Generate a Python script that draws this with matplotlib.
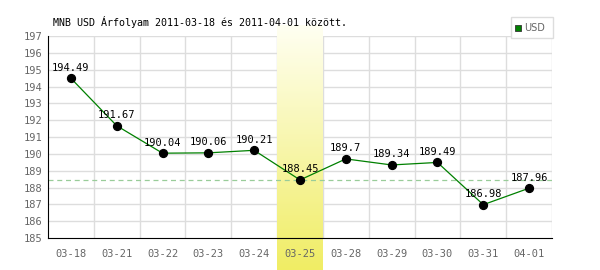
import matplotlib
matplotlib.use("Agg")
import matplotlib.pyplot as plt
import matplotlib.transforms as mtransforms
from matplotlib.patches import Rectangle
import numpy as np

dates = ["03-18", "03-21", "03-22", "03-23", "03-24", "03-25",
         "03-28", "03-29", "03-30", "03-31", "04-01"]
values = [194.49, 191.67, 190.04, 190.06, 190.21, 188.45,
          189.7, 189.34, 189.49, 186.98, 187.96]
value_labels = ["194.49", "191.67", "190.04", "190.06", "190.21", "188.45",
                "189.7", "189.34", "189.49", "186.98", "187.96"]
highlight = 5
y_ticks = list(range(185, 198))
title = "MNB USD Árfolyam 2011-03-18 és 2011-04-01 között."

mono = "DejaVu Sans Mono"

fig = plt.figure(figsize=(6, 2.7), dpi=100)
ax = fig.add_axes([0.08, 0.1185, 0.84, 0.748])

x = np.arange(len(dates))

# grid drawn by hand so the highlight band can sit over it but under the labels
for yt in y_ticks[1:]:
    ax.axhline(yt, color="#dddddd", lw=1, zorder=0)
for xb in np.arange(len(dates) + 1)[1:] - 0.5:
    ax.axvline(xb, color="#dddddd", lw=1, zorder=0)

# highlighted day: vertical gradient band, runs off the bottom of the figure
grad = np.linspace(0, 1, 256).reshape(-1, 1)
top_c = np.array([255, 255, 242]) / 255
bot_c = np.array([240, 237, 100]) / 255
img = top_c * (1 - grad[..., None]) + bot_c * grad[..., None]
img = img.reshape(256, 1, 3)
trans = mtransforms.blended_transform_factory(ax.transData, fig.transFigure)
ax.imshow(img, extent=(highlight - 0.5, highlight + 0.5, 0, 0.905),
          transform=trans, aspect="auto", clip_on=False, zorder=1,
          interpolation="bilinear")

ax.axhline(values[highlight], color="#99cc99", lw=0.9, ls=(0, (4, 3)), zorder=2)
ax.plot(x, values, color="green", lw=0.9, zorder=3)
ax.scatter(x, values, s=32, color="black", zorder=4)
for xi, v, lab in zip(x, values, value_labels):
    ax.annotate(lab, (xi, v), xytext=(0, 4), textcoords="offset points",
                ha="center", va="bottom", fontsize=7.5, family=mono, zorder=5)

ax.set_xlim(-0.5, len(dates) - 0.5)
ax.set_ylim(185, 197)
ax.set_xticks(x)
ax.set_xticklabels(dates)
ax.set_yticks(y_ticks)
ax.grid(False)
ax.tick_params(which="both", length=0)
ax.tick_params(axis="both", labelsize=7.5, labelcolor="#666666")
ax.tick_params(axis="x", pad=8)
ax.tick_params(axis="y", pad=4)
for lab in ax.get_xticklabels() + ax.get_yticklabels():
    lab.set_family(mono)
for s in ["top", "right"]:
    ax.spines[s].set_visible(False)
ax.spines["left"].set_color("black")
ax.spines["bottom"].set_color("black")
ax.spines["bottom"].set_zorder(6)
ax.spines["left"].set_zorder(6)

fig.text(0.088, 0.918, title, fontsize=7.2, family=mono, va="center", ha="left")

# legend box
fig.patches.append(Rectangle((0.852, 0.86), 0.07, 0.078, transform=fig.transFigure,
                             facecolor="white", edgecolor="#dddddd", lw=1, zorder=5))
fig.patches.append(Rectangle((0.859, 0.885), 0.01, 0.022, transform=fig.transFigure,
                             facecolor="green", edgecolor="#333333", lw=0.6, zorder=6))
fig.text(0.873, 0.897, "USD", fontsize=7, color="#666666", va="center", ha="left",
         zorder=7)

fig.savefig("out.png", dpi=100)
